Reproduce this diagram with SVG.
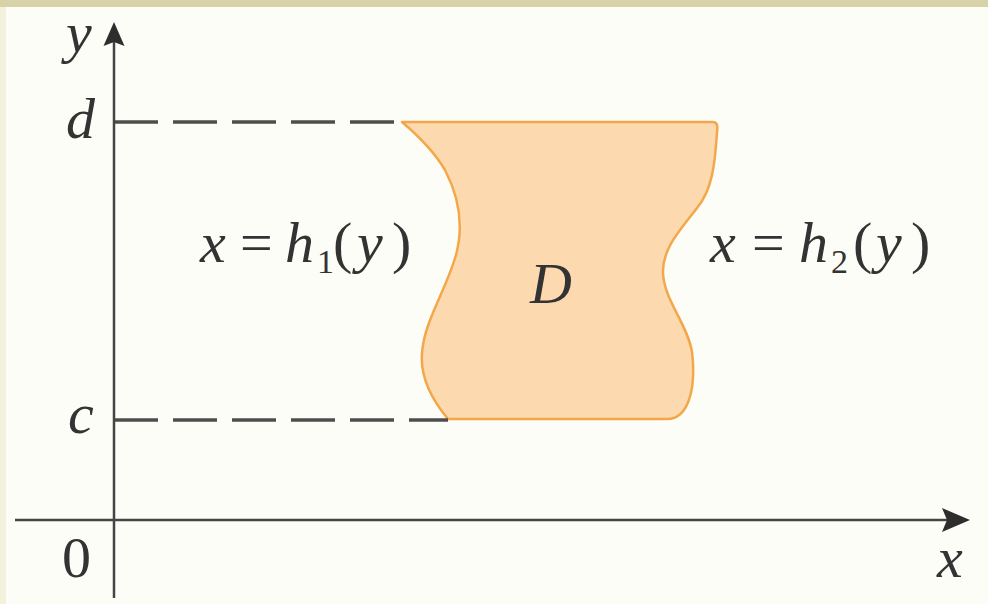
<svg xmlns="http://www.w3.org/2000/svg" width="988" height="604" viewBox="0 0 988 604">
  <style>
    .axis { stroke: #454545; stroke-width: 2.5; fill: none; }
    .head { fill: #2e2e2e; }
    .dash { stroke: #4d4d4d; stroke-width: 3.5; stroke-dasharray: 44 15; fill: none; }
    .region { fill: #fdd9b0; stroke: #f2a84a; stroke-width: 2.5; stroke-linejoin: round; }
    .t { font-family: "Liberation Serif", "Times New Roman", serif; fill: #333333; font-size: 58px; }
    .i { font-style: italic; }
    .sub { font-size: 34px; font-style: normal; fill: #333333; }
  </style>
  <rect x="0" y="0" width="988" height="604" fill="#fdfdf7"/>
  <rect x="0" y="0" width="6" height="604" fill="#f3f0dc"/>
  <rect x="0" y="0" width="988" height="7" fill="#d8d2a9"/>

  <g id="region-D">
    <path class="region" d="M402,122 L713,122 C717,122 718,126 717,132 C715,165 712,190 697,208 C682,228 662,248 663,273 C664,300 688,325 692,352 C696,385 690,419 667,419 L448,419 C432,400 420,378 422,353 C424,322 446,290 456,255 C464,225 458,195 445,170 C432,148 415,133 402,122 Z"/>
    <text class="t i" x="530" y="303">D</text>
  </g>

  <g id="connectors">
    <line class="dash" x1="114" y1="122" x2="402" y2="122"/>
    <line class="dash" x1="114" y1="420" x2="448" y2="420"/>
  </g>

  <g id="y-axis">
    <line class="axis" x1="114" y1="598" x2="114" y2="40"/>
    <polygon class="head" points="114,22 124.5,46 114,42 103.5,46"/>
    <text class="t i" x="66" y="52">y</text>
  </g>

  <g id="x-axis">
    <line class="axis" x1="15" y1="520" x2="952" y2="520"/>
    <polygon class="head" points="970,520 942,508 947,520 942,532"/>
    <text class="t i" x="937" y="577">x</text>
  </g>

  <g id="ticks">
    <text class="t i" x="66" y="138">d</text>
    <text class="t i" x="68" y="433">c</text>
    <text class="t" x="62" y="577">0</text>
  </g>

  <g id="label-h1">
    <text class="t"><tspan class="i" x="200" y="262">x</tspan><tspan x="240" y="262">=</tspan><tspan class="i" x="285" y="262">h</tspan><tspan class="sub" x="317" y="273">1</tspan><tspan x="333" y="262">(</tspan><tspan class="i" x="357" y="262">y</tspan><tspan x="392" y="262">)</tspan></text>
  </g>

  <g id="label-h2">
    <text class="t"><tspan class="i" x="710" y="262">x</tspan><tspan x="752" y="262">=</tspan><tspan class="i" x="799" y="262">h</tspan><tspan class="sub" x="831" y="273">2</tspan><tspan x="853" y="262">(</tspan><tspan class="i" x="876" y="262">y</tspan><tspan x="911" y="262">)</tspan></text>
  </g>
</svg>
